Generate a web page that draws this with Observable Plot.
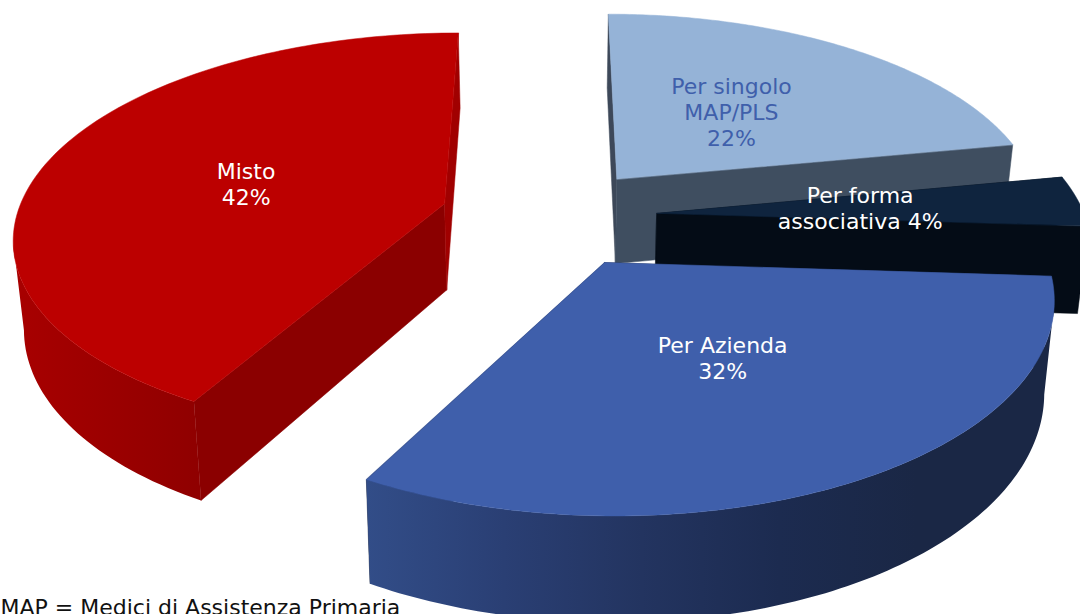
<!DOCTYPE html>
<html>
<head>
<meta charset="utf-8">
<style>html,body{margin:0;padding:0;background:#fff;overflow:hidden}svg{display:block}</style>
<script src="https://cdn.jsdelivr.net/npm/d3@7"></script>
<script src="https://cdn.jsdelivr.net/npm/@observablehq/plot@0.6"></script>
</head>
<body>
<div id="chart"></div>
<script>
const categories = ["Per Azienda", "Misto", "Per singolo\nMAP/PLS", "Per forma\nassociativa"];
const values = [32, 42, 22, 4];
const topColors = ["#3F5FAB", "#BC0000", "#95B3D7", "#0F243E"];
const edgeColors = ["#1A2745", "#8B0000", "#3D4859", "#040C16"];
const sliverColors = ["#1A2745", "#A00000", "#3F4E60", "#040C16"];
const rimColors = [
  ["#324D88", "#2A3F74", "#233460", "#1C2B50", "#1A2745", "#1A2745"],
  ["#A80000", "#8F0000"],
  ["#3D4859", "#3D4859"],
  ["#040C16", "#040C16"]
];
const labelColors = ["#FFFFFF", "#FFFFFF", "#3F5FAB", "#FFFFFF"];
const labelRadii = [0.48, 0.49, 0.48, 0.48];
const labelTurns = [-1.4, -2.3, -1, 0];
const explodes = [0.254, 0.258, 0.25, 0.25];
const caption = "MAP = Medici di Assistenza Primaria";

// 3D view of the exploded pie
const deg = Math.PI / 180;
const startAngle = 3.6 * deg;
const view = {cx: 550, cy: 216, A: 428, B: 200, p: 0.15, H: 87, k: 0.98};
function project(X, Z, low) {
  const w = 1 - view.p * Z;
  const sx = view.A * X / w, sy = view.B * Z / w;
  return low
    ? {x: view.cx + sx * view.k, y: view.cy + sy + view.H / w}
    : {x: view.cx + sx, y: view.cy + sy};
}
const total = d3.sum(values);
const steps = 120;
let cursor = startAngle;
const wedges = values.map((v, i) => {
  const a0 = cursor, a1 = cursor + v / total * 2 * Math.PI;
  cursor = a1;
  return {i, a0, a1, mid: (a0 + a1) / 2};
});

const marks = [];
const poly = (points, fill, stroke = fill) =>
  Plot.line(points, {x: "x", y: "y", fill, stroke, strokeWidth: 0.5, curve: "linear-closed"});
const defs = [];
const labels = [];
// painter's order: back wedges first
for (const i of [2, 3, 1, 0]) {
  const {a0, a1, mid} = wedges[i];
  const ox = explodes[i] * Math.cos(mid), oz = explodes[i] * Math.sin(mid);
  const at = (t, r = 1) => [ox + r * Math.cos(t), oz + r * Math.sin(t)];
  const arc = d3.range(steps + 1).map(s => a0 + (a1 - a0) * s / steps);
  // radial side walls
  [a0, a1].forEach((t, n) => {
    const [ex, ez] = at(t);
    marks.push(poly([project(ox, oz, false), project(ex, ez, false), project(ex, ez, true), project(ox, oz, true)],
      n === 0 ? edgeColors[i] : sliverColors[i]));
  });
  // rim between the silhouette tangents, with a horizontal gradient
  const visible = arc.filter(t => Math.sin(t) > 0.17);
  if (visible.length) {
    const upper = visible.map(t => { const [x, z] = at(t); return project(x, z, false); });
    const lower = visible.map(t => { const [x, z] = at(t); return project(x, z, true); }).reverse();
    const stops = rimColors[i].map((c, s, all) => `<stop offset="${s / (all.length - 1)}" stop-color="${c}"/>`).join("");
    defs.push(`<linearGradient id="rim${i}" x1="0" x2="1" y1="0" y2="0">${stops}</linearGradient>`);
    marks.push(poly([...upper, ...lower], `url(#rim${i})`, "none"));
  }
  // top surface
  marks.push(poly([project(ox, oz, false), ...arc.map(t => { const [x, z] = at(t); return project(x, z, false); })], topColors[i]));
  const [lx, lz] = at(mid + labelTurns[i] * deg, labelRadii[i]);
  labels.push({...project(lx, lz, false), text: `${categories[i]}${i === 3 ? " " : "\n"}${values[i]}%`, color: labelColors[i]});
}

const plot = Plot.plot({
  width: 1080,
  height: 614,
  margin: 0,
  x: {domain: [0, 1080], range: [0, 1080], axis: null},
  y: {domain: [0, 614], range: [0, 614], axis: null},
  color: {type: "identity"},
  style: {background: "#fff"},
  marks: [
    () => d3.create("svg:defs").html(defs.join("")).node(),
    ...marks,
    Plot.text(labels, {x: "x", y: "y", text: "text", fill: "color", fontSize: 22, lineHeight: 1.18, textAnchor: "middle", fontFamily: "DejaVu Sans"}),
    Plot.text([caption], {text: d => d, frameAnchor: "bottom-left", lineAnchor: "bottom", fill: "#111", fontSize: 22, fontFamily: "DejaVu Sans", dy: 0})
  ]
});
document.getElementById("chart").appendChild(plot);
</script>
</body>
</html>
